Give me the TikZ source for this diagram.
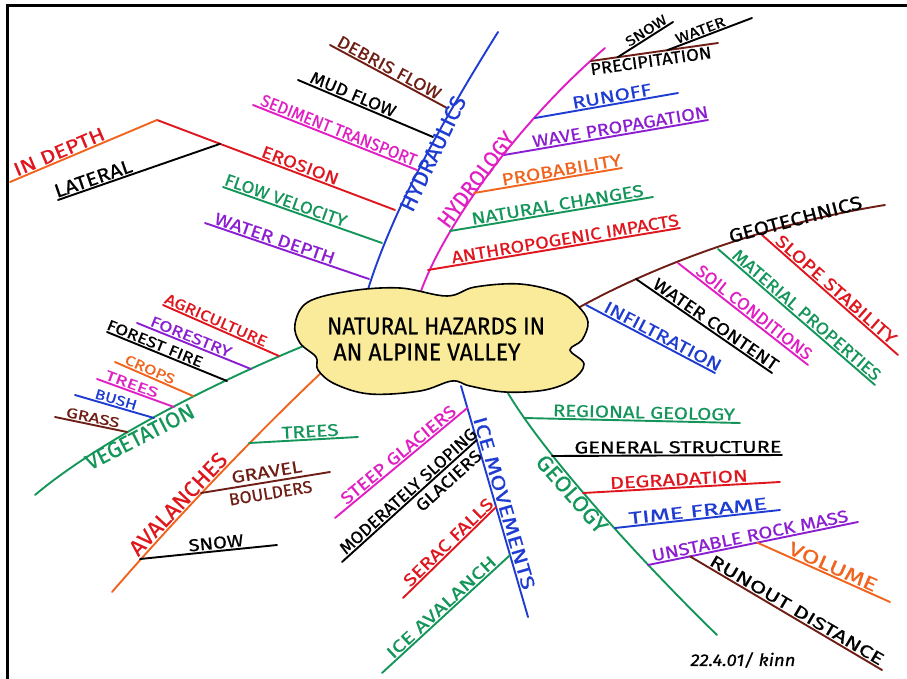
\documentclass[tikz,border=0pt]{standalone}
\usepackage{fontspec}
\setmainfont{Fira Sans}[FakeBold=0.6]
\usetikzlibrary{calc}
\definecolor{cblue}{HTML}{1E3CD2}
\definecolor{cmag}{HTML}{E11EC3}
\definecolor{cred}{HTML}{E0161E}
\definecolor{corange}{HTML}{F0641E}
\definecolor{cgreen}{HTML}{14965A}
\definecolor{cpurple}{HTML}{8C1ED2}
\definecolor{cbrown}{HTML}{6E1E14}
\definecolor{cloudfill}{HTML}{FAEB9B}
% #1 name, #2 from, #3 to, #4 text centre, #5 options, #6 width, #7 text
\newcommand\lbl[7]{%
  \path let \p1=(#2), \p2=(#3), \p3=(#4),
    \n1={(((\x3)-(\x1))/100*((\x2)-(\x1))/100+((\y3)-(\y1))/100*((\y2)-(\y1))/100)/((((\x2)-(\x1))/100)^2+(((\y2)-(\y1))/100)^2)}
    in (\p1) -- node[pos=\n1, sloped, #5] (#1) {\resizebox{#6pt}{\height}{#7}} (\p2);}
\begin{document}
\begin{tikzpicture}[x=1pt,y=-1pt,
  br/.style={line width=1.9pt, line cap=round, line join=round},
  lab/.style={font=\fontsize{17}{17}\selectfont, inner sep=2pt},
  mid/.style={font=\fontsize{19}{19}\selectfont, inner sep=2pt},
  big/.style={font=\fontsize{22}{22}\selectfont, inner sep=2pt},
  small/.style={font=\fontsize{15}{15}\selectfont, inner sep=2pt},
  tiny/.style={font=\fontsize{14}{14}\selectfont, inner sep=2pt}]
\useasboundingbox (0,0) rectangle (907,679);
\fill[white] (0,0) rectangle (907,679);
\draw[line width=3pt] (7,690) -- (7,6) -- (912,6);

% ---------- HYDRAULICS ----------
\coordinate (hy0) at (366,296); \coordinate (hy1) at (498,32);
\coordinate (hyA) at (447,108); \coordinate (hyB) at (433,137);
\coordinate (hyC) at (417,170); \coordinate (hyD) at (395,210);
\coordinate (hyE) at (382,243); \coordinate (hyF) at (369,279);
\coordinate (dfE) at (330,45); \coordinate (mfE) at (298,80);
\coordinate (stE) at (253,105); \coordinate (erE) at (157,120);
\coordinate (fvE) at (223,187); \coordinate (wdE) at (205,223);
\coordinate (idE) at (10,182); \coordinate (laE) at (58,200);
\coordinate (laJ) at ($(erE)!0.265!(hyD)$);
\draw[br,cblue] (hy0) .. controls (390,215) and (440,125) .. (hy1);
\draw[br,cbrown] (hyA) -- (dfE);
\draw[br,black] (hyB) -- (mfE);
\draw[br,cmag] (hyC) -- (stE);
\draw[br,cred] (hyD) -- (erE);
\draw[br,corange] (erE) -- (idE);
\draw[br,black] (laJ) -- (laE);
\draw[br,cgreen] (hyE) -- (fvE);
\draw[br,cpurple] (hyF) -- (wdE);

% ---------- HYDROLOGY ----------
\coordinate (hl0) at (420,294); \coordinate (hl1) at (605,48);
\coordinate (hlA) at (591,61); \coordinate (hlB) at (535,118);
\coordinate (hlC) at (504,155); \coordinate (hlD) at (474,193);
\coordinate (hlE) at (450,231); \coordinate (hlF) at (428,270);
\coordinate (prE) at (718,43); \coordinate (snE) at (673,22);
\coordinate (waE) at (752,18);
\coordinate (snJ) at ($(hlA)!0.21!(prE)$);
\coordinate (waJ) at ($(hlA)!0.6!(prE)$);
\coordinate (ruE) at (678,93); \coordinate (wpE) at (708,120);
\coordinate (pbE) at (622,168); \coordinate (ncE) at (653,197);
\coordinate (aiE) at (680,228);
\draw[br,cmag] (hl0) .. controls (440,235) and (510,130) .. (hl1);
\draw[br,cbrown] (hlA) -- (prE);
\draw[br,black] (snJ) -- (snE);
\draw[br,black] (waJ) -- (waE);
\draw[br,cblue] (hlB) -- (ruE);
\draw[br,cpurple] (hlC) -- (wpE);
\draw[br,corange] (hlD) -- (pbE);
\draw[br,cgreen] (hlE) -- (ncE);
\draw[br,cred] (hlF) -- (aiE);

% ---------- GEOTECHNICS ----------
\coordinate (gt0) at (578,308); \coordinate (gt1) at (885,205);
\coordinate (gtS) at (586,305);
\coordinate (gtA) at (636,279); \coordinate (gtB) at (678,263);
\coordinate (gtC) at (718,249); \coordinate (gtD) at (762,235);
\coordinate (fiE) at (715,373); \coordinate (wcE) at (772,373);
\coordinate (scE) at (808,365); \coordinate (mpE) at (875,385);
\coordinate (ssE) at (898,355);
\draw[br,cbrown] (gt0) .. controls (650,268) and (760,225) .. (gt1);
\draw[br,cblue] (gtS) -- (fiE);
\draw[br,black] (gtA) -- (wcE);
\draw[br,cmag] (gtB) -- (scE);
\draw[br,cgreen] (gtC) -- (mpE);
\draw[br,cred] (gtD) -- (ssE);

% ---------- GEOLOGY ----------
\coordinate (gl0) at (505,388); \coordinate (gl1) at (717,635);
\coordinate (glA) at (524,418); \coordinate (glB) at (552,456);
\coordinate (glC) at (583,493); \coordinate (glD) at (615,528);
\coordinate (glE) at (648,565);
\coordinate (rgE) at (740,423); \coordinate (gsE) at (782,455);
\coordinate (dgE) at (780,482); \coordinate (tfE) at (780,510);
\coordinate (urE) at (858,522);
\coordinate (voJ) at ($(glE)!0.52!(urE)$); \coordinate (voE) at (890,602);
\coordinate (roJ) at ($(glE)!0.2!(urE)$); \coordinate (roE) at (882,670);
\draw[br,cgreen] (gl0) .. controls (540,450) and (640,560) .. (gl1);
\draw[br,cgreen] (glA) -- (rgE);
\draw[br,black] (glB) -- (gsE);
\draw[br,cred] (glC) -- (dgE);
\draw[br,cblue] (glD) -- (tfE);
\draw[br,cpurple] (glE) -- (urE);
\draw[br,corange] (voJ) -- (voE);
\draw[br,cbrown] (roJ) -- (roE);

% ---------- ICE MOVEMENTS ----------
\coordinate (im0) at (461,386); \coordinate (im1) at (528,617);
\coordinate (imA) at ($(im0)!0.095!(im1)$); \coordinate (imB) at ($(im0)!0.234!(im1)$);
\coordinate (imC) at ($(im0)!0.524!(im1)$); \coordinate (imD) at ($(im0)!0.732!(im1)$);
\coordinate (sgE) at (335,518); \coordinate (msE) at (342,562);
\coordinate (sfE) at (403,598); \coordinate (iaE) at (382,673);
\draw[br,cblue] (im0) -- (im1);
\draw[br,cmag] (imA) -- (sgE);
\draw[br,black] (imB) -- (msE);
\draw[br,cred] (imC) -- (sfE);
\draw[br,cgreen] (imD) -- (iaE);

% ---------- AVALANCHES ----------
\coordinate (av0) at (112,592); \coordinate (av1) at (322,372);
\coordinate (avA) at (249,443); \coordinate (avB) at (201,493);
\coordinate (avC) at (140,559);
\coordinate (trE) at (358,437); \coordinate (gbE) at (330,472);
\coordinate (swE) at (277,545);
\draw[br,corange] (av0) .. controls (170,525) and (250,440) .. (av1);
\draw[br,cgreen] (avA) -- (trE);
\draw[br,cbrown] (avB) -- (gbE);
\draw[br,black] (avC) -- (swE);

% ---------- VEGETATION ----------
\coordinate (vg0) at (35,495); \coordinate (vg1) at (306,345);
\coordinate (vgA) at (279,356); \coordinate (vgB) at (251,369);
\coordinate (vgC) at (227,381); \coordinate (vgD) at (193,396);
\coordinate (vgE) at (174,407); \coordinate (vgF) at (154,418);
\coordinate (vgG) at (127,432);
\coordinate (agE) at (163,305); \coordinate (foE) at (137,323);
\coordinate (ffE) at (107,332); \coordinate (crE) at (115,362);
\coordinate (tvE) at (97,379); \coordinate (buE) at (75,395);
\coordinate (grE) at (55,417);
\draw[br,cgreen] (vg0) .. controls (100,440) and (220,380) .. (vg1);
\draw[br,cred] (vgA) -- (agE);
\draw[br,cpurple] (vgB) -- (foE);
\draw[br,black] (vgC) -- (ffE);
\draw[br,corange] (vgD) -- (crE);
\draw[br,cmag] (vgE) -- (tvE);
\draw[br,cblue] (vgF) -- (buE);
\draw[br,cbrown] (vgG) -- (grE);

% ---------- CENTRAL CLOUD ----------
\draw[line width=1.6pt, fill=cloudfill] plot[smooth cycle, tension=0.6] coordinates {
 (308,302) (350,291) (400,288) (447,296) (475,287) (520,284) (560,293) (578,306)
 (588,322) (582,340) (570,350) (584,364) (572,380) (545,390) (505,392) (470,386)
 (452,381) (420,391) (370,394) (335,384) (318,370) (316,357) (300,343) (295,324)};
\node[font=\fontsize{24}{24}\selectfont, inner sep=0pt] (c1) at (436,326) {\resizebox{218pt}{\height}{NATURAL HAZARDS IN}};
\node[font=\fontsize{24}{24}\selectfont, inner sep=0pt] (c2) at (427,352) {\resizebox{187pt}{\height}{AN ALPINE VALLEY}};

% ---------- LABELS ----------
\lbl{tHy}{hyE}{hyA}{440,157}{big,below=-3pt,text=cblue}{125}{HYDRAULICS}
\lbl{tDf}{hyA}{dfE}{390,66}{lab,above,text=cbrown}{115}{DEBRIS FLOW}
\lbl{tMf}{hyB}{mfE}{355,90}{lab,above,text=black}{91}{MUD FLOW}
\lbl{tSt}{hyC}{stE}{340,127}{lab,above,text=cmag}{166}{SEDIMENT TRANSPORT}
\lbl{tEr}{erE}{hyD}{303,158}{lab,above,text=cred}{81}{EROSION}
\lbl{tId}{idE}{erE}{58,149}{mid,above,text=cred}{97}{IN DEPTH}
\lbl{tLa}{laE}{laJ}{92,175}{mid,above,text=black}{81}{LATERAL}
\lbl{tFv}{hyE}{fvE}{287,197}{lab,above,text=cgreen}{128}{FLOW VELOCITY}
\lbl{tWd}{hyF}{wdE}{276,235}{lab,above,text=cpurple}{126}{WATER DEPTH}

\lbl{tHl}{hlE}{hlB}{474,178}{big,above,text=cmag}{113}{HYDROLOGY}
\lbl{tPr}{hlA}{prE}{652,69}{lab,below,text=black}{122}{PRECIPITATION}
\lbl{tSn}{snJ}{snE}{645,29}{tiny,above,text=black}{46}{SNOW}
\lbl{tWa}{waJ}{waE}{699,27}{tiny,above,text=black}{52}{WATER}
\lbl{tRu}{hlB}{ruE}{611,92}{lab,above,text=cblue}{80}{RUNOFF}
\lbl{tWp}{hlC}{wpE}{620,125}{lab,above,text=cpurple}{178}{WAVE PROPAGATION}
\lbl{tPb}{hlD}{pbE}{561,167}{lab,above,text=corange}{121}{PROBABILITY}
\lbl{tNc}{hlE}{ncE}{557,202}{lab,above,text=cgreen}{174}{NATURAL CHANGES}
\lbl{tAi}{hlF}{aiE}{565,238}{lab,above,text=cred}{230}{ANTHROPOGENIC IMPACTS}

\lbl{tGt}{gtC}{gt1}{795,218}{mid,above,text=black}{137}{GEOTECHNICS}
\lbl{tIf}{gtS}{fiE}{663,336}{lab,above,text=cblue}{130}{INFILTRATION}
\lbl{tWc}{gtA}{wcE}{716,324}{lab,above,text=black}{148}{WATER CONTENT}
\lbl{tSc}{gtB}{scE}{756,310}{lab,above,text=cmag}{142}{SOIL CONDITIONS}
\lbl{tMp}{gtC}{mpE}{811,310}{lab,above,text=cgreen}{190}{MATERIAL PROPERTIES}
\lbl{tSs}{gtD}{ssE}{840,285}{lab,above,text=cred}{155}{SLOPE STABILITY}

\lbl{tGl}{glB}{glD}{565,500}{big,below,text=cgreen}{96}{GEOLOGY}
\lbl{tRg}{glA}{rgE}{644,410}{lab,above,text=cgreen}{182}{REGIONAL GEOLOGY}
\lbl{tGs}{glB}{gsE}{678,448}{lab,above,text=black}{207}{GENERAL STRUCTURE}
\lbl{tDg}{glC}{dgE}{679,482}{lab,above,text=cred}{138}{DEGRADATION}
\lbl{tTf}{glD}{tfE}{698,512}{lab,above,text=cblue}{139}{TIME FRAME}
\lbl{tUr}{glE}{urE}{750,536}{lab,above,text=cpurple}{200}{UNSTABLE ROCK MASS}
\lbl{tVo}{voJ}{voE}{832,569}{mid,above,text=corange}{95}{VOLUME}
\lbl{tRo}{roJ}{roE}{797,610}{lab,above,text=black}{199}{RUNOUT DISTANCE}

\lbl{tIm}{im0}{im1}{508,502}{mid,above,text=cblue}{179}{ICE MOVEMENTS}
\lbl{tSg}{imA}{sgE}{401,458}{lab,above,text=cmag}{144}{STEEP GLACIERS}
\lbl{tMs}{imB}{msE}{408,491}{lab,above,text=black}{178}{MODERATELY SLOPING}
\lbl{tGc}{imB}{msE}{448,480}{lab,below=3pt,text=black}{82}{GLACIERS}
\lbl{tSf}{imC}{sfE}{450,544}{lab,above,text=cred}{118}{SERAC FALLS}
\lbl{tIa}{imD}{iaE}{444,610}{lab,above,text=cgreen}{142}{ICE AVALANCH}

\lbl{tAv}{avC}{avA}{176,502}{big,above,text=cred}{132}{AVALANCHES}
\lbl{tTr}{avA}{trE}{310,430}{lab,above,text=cgreen}{57}{TREES}
\lbl{tGr}{avB}{gbE}{267,474}{lab,above=2pt,text=cbrown}{71}{GRAVEL}
\lbl{tBo}{avB}{gbE}{271,496}{lab,below=3pt,text=cbrown}{84}{BOULDERS}
\lbl{tSw}{avC}{swE}{216,543}{lab,above,text=black}{55}{SNOW}

\lbl{tVg}{vgG}{vgC}{142,441}{big,below,text=cgreen}{119}{VEGETATION}
\lbl{tAg}{vgA}{agE}{217,318}{small,above,text=cred}{110}{AGRICULTURE}
\lbl{tFo}{vgB}{foE}{193,332}{small,above,text=cpurple}{86}{FORESTRY}
\lbl{tFf}{vgC}{ffE}{156,341}{small,above,text=black}{102}{FOREST FIRE}
\lbl{tCr}{vgD}{crE}{151,367}{tiny,above,text=corange}{53}{CROPS}
\lbl{tTv}{vgE}{tvE}{133,381}{tiny,above,text=cmag}{55}{TREES}
\lbl{tBu}{vgF}{buE}{117,396}{tiny,above,text=cblue}{43}{BUSH}
\lbl{tGa}{vgG}{grE}{93,417}{tiny,above,text=cbrown}{54}{GRASS}

\node[font=\fontsize{17}{17}\selectfont\itshape, inner sep=0pt] (sig) at (743,660) {\resizebox{105pt}{\height}{22.4.01/ kinn}};
\end{tikzpicture}
\end{document}
